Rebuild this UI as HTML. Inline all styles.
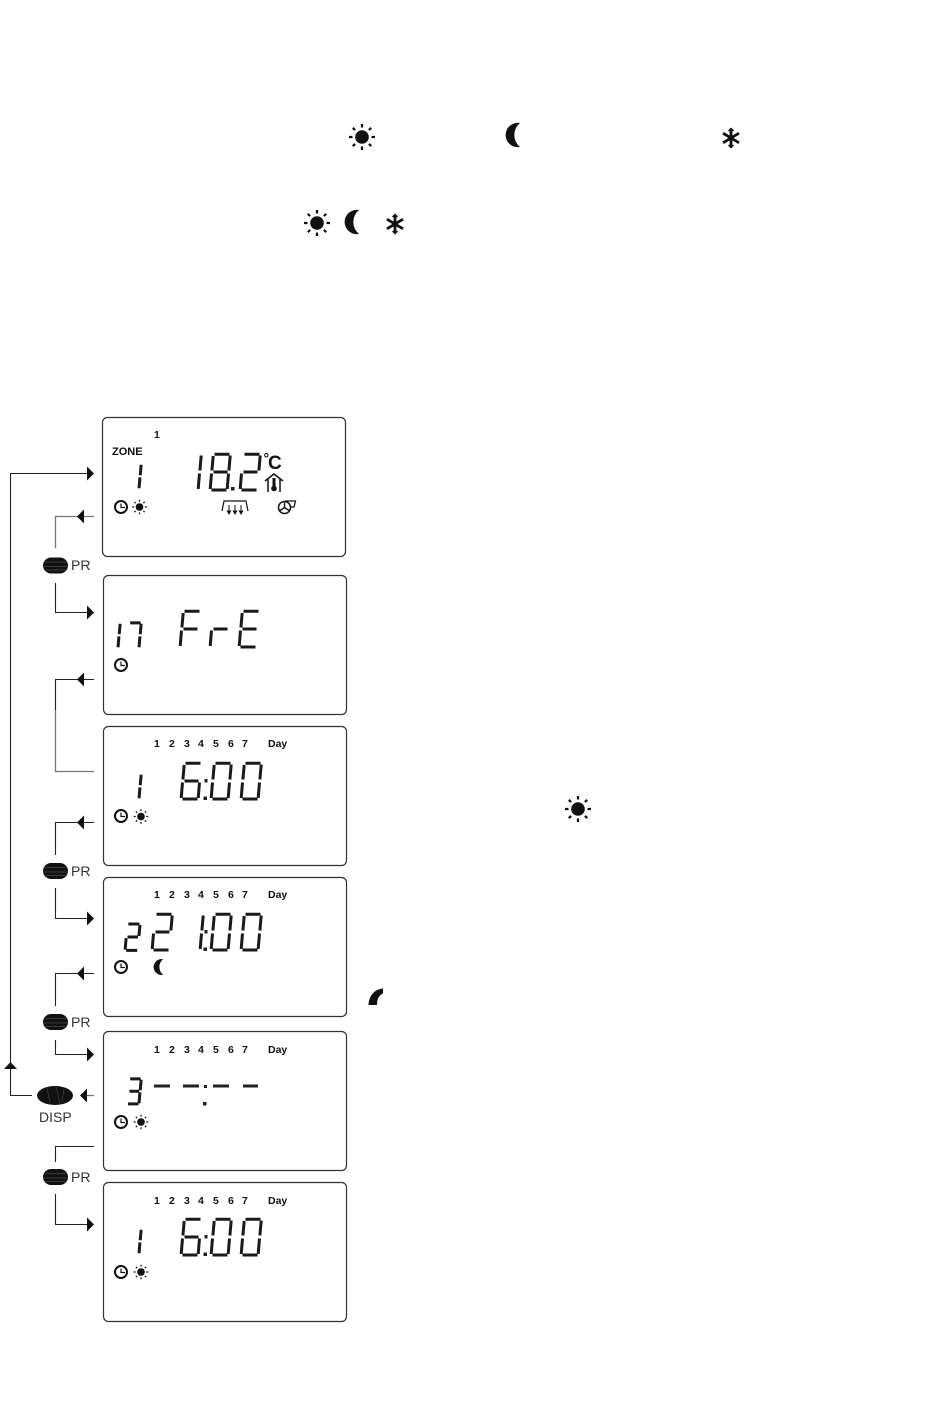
<!DOCTYPE html>
<html><head><meta charset="utf-8"><title>Display diagram</title>
<style>html,body{margin:0;padding:0;background:#fff}svg{display:block}
text{font-family:"Liberation Sans",sans-serif}
.b{font-weight:700;font-size:10.5px;fill:#111}
.p{font-size:14px;fill:#333}
.panel{fill:#fff;stroke:#333;stroke-width:1.2}
.l{fill:none;stroke:#222;stroke-width:1.1}
.g{fill:none;stroke:#777;stroke-width:1.3}
.s{fill:none;stroke:#1a1a1a;stroke-width:3;vector-effect:non-scaling-stroke}
</style></head><body>
<svg width="950" height="1409" viewBox="0 0 950 1409" xmlns="http://www.w3.org/2000/svg">
<defs>
<g id="sun"><circle r="6.800" fill="#111"/><path d="M0-13V-9.500M0 9.500V13M-13 0H-9.500M9.500 0H13M-9.200-9.200L-6.900-6.900M6.900 6.900L9.200 9.200M-9.200 9.200L-6.900 6.900M6.900-6.900L9.200-9.200" stroke="#111" stroke-width="2.200" fill="none"/></g>
<path id="moon" d="M7-12A12.200 12.200 0 1 0 7 12A15.500 15.500 0 0 1 7-12Z" fill="#111"/>
<g id="snow"><path d="M0-9.500V9.500M-8-4.800L8 4.800M-8 4.800L8-4.800" stroke="#111" stroke-width="2.800" fill="none"/><path d="M-2.500-7L0-9.500L2.500-7M-2.500 7L0 9.500L2.500 7" stroke="#111" stroke-width="1.400" fill="none"/></g>
<g id="clock"><circle r="6" fill="none" stroke="#111" stroke-width="2"/><path d="M0-3.500V0.500H4" fill="none" stroke="#111" stroke-width="1.200"/></g>
<g id="btn"><rect x="-12.500" y="-8" width="25" height="16" rx="8" ry="8" fill="#111"/><path d="M-11-3.500H11M-12 1H12M-10 4.500H10" stroke="#666" stroke-width=".5" fill="none"/></g>
<path id="al" d="M0 0L7-7V7Z" fill="#111"/>
<path id="ar" d="M0 0L-7-7V7Z" fill="#111"/>
<path id="d0" class="s" d="M4.500 1.300H19.500M3.200 3L1.900 17.500M20.200 2.500L18.900 17.500M1.500 20.500L.2 36M18.500 20.500L17.200 36M1.500 37H16.500"/>
<path id="d1" class="s" d="M20.200 2.500L18.900 17.500M18.500 20.500L17.200 36"/>
<path id="d2" class="s" d="M4.500 1.300H19.500M20.200 2.500L18.900 17.500M3.500 19H17.500M1.500 20.500L.2 36M1.500 37H16.500"/>
<path id="d3" class="s" d="M4.500 1.300H19.500M20.200 2.500L18.900 17.500M3.500 19H17.500M18.500 20.500L17.200 36M1.500 37H16.500"/>
<path id="d6" class="s" d="M4.500 1.300H19.500M3.200 3L1.900 17.500M3.500 19H17.500M1.500 20.500L.2 36M18.500 20.500L17.200 36M1.500 37H16.500"/>
<path id="d7" class="s" d="M4.500 1.300H19.500M20.200 2.500L18.900 17.500M18.500 20.500L17.200 36"/>
<path id="d8" class="s" d="M4.500 1.300H19.500M3.200 3L1.900 17.500M20.200 2.500L18.900 17.500M3.500 19H17.500M1.500 20.500L.2 36M18.500 20.500L17.200 36M1.500 37H16.500"/>
<path id="dF" class="s" d="M4.500 1.300H19.500M3.200 3L1.900 17.500M3.500 19H17.500M1.500 20.500L.2 36"/>
<path id="dr" class="s" d="M3.500 19H17.500M1.500 20.500L.2 36"/>
<path id="dE" class="s" d="M4.500 1.300H19.500M3.200 3L1.900 17.500M3.500 19H17.500M1.500 20.500L.2 36M1.500 37H16.500"/>
<g id="days">
<text class="b" x="154" y="0">1</text><text class="b" x="169" y="0">2</text><text class="b" x="184" y="0">3</text><text class="b" x="198" y="0">4</text><text class="b" x="213" y="0">5</text><text class="b" x="228" y="0">6</text><text class="b" x="242" y="0">7</text><text class="b" x="268" y="0">Day</text>
</g>
<g id="time600">
<use href="#d6" x="181"/><rect x="204.500" y="17" width="3" height="3.500" fill="#222"/><rect x="203.500" y="34.500" width="3.500" height="3.500" fill="#222"/><use href="#d0" x="211"/><use href="#d0" x="241"/>
</g>
</defs>

<!-- top symbols -->
<use href="#sun" x="362" y="137"/><use href="#moon" x="513" y="135"/><use href="#snow" x="731" y="138"/>
<use href="#sun" x="317" y="223"/><use href="#moon" x="352" y="222"/><use href="#snow" x="395" y="224"/>
<use href="#sun" x="578" y="809"/>
<path d="M383 988.500C375 989 369 995 368.500 1005H377C377 999 379 995 383 993.500Z" fill="#111"/>

<!-- panels -->
<rect class="panel" x="102.500" y="417.500" width="243" height="139" rx="5"/>
<rect class="panel" x="103.500" y="575.500" width="243" height="139" rx="5"/>
<rect class="panel" x="103.500" y="726.500" width="243" height="139" rx="5"/>
<rect class="panel" x="103.500" y="877.500" width="243" height="139" rx="5"/>
<rect class="panel" x="103.500" y="1031.500" width="243" height="139" rx="5"/>
<rect class="panel" x="103.500" y="1182.500" width="243" height="139" rx="5"/>

<!-- panel 1 -->
<text class="b" x="154" y="438">1</text>
<text x="112" y="455" font-size="11" font-weight="700" fill="#111">ZONE</text>
<use href="#d1" transform="translate(127 463) scale(.7)"/>
<g transform="translate(0 453)"><use href="#d1" x="181"/><use href="#d8" x="210"/><rect x="231" y="34" width="3.500" height="3.500" fill="#222"/><use href="#d2" x="240"/></g>
<text x="263.500" y="463" font-size="14" font-weight="700" fill="#111">°</text>
<text x="268" y="469" font-size="19" font-weight="700" fill="#111">C</text>
<path d="M265 481L274 474L283 481M268 479V492M280 479V492" fill="none" stroke="#111" stroke-width="1.500"/>
<path d="M274 478V488" stroke="#111" stroke-width="3"/><circle cx="274" cy="488.500" r="2.800" fill="#111"/>
<use href="#clock" x="121" y="507"/><use href="#sun" transform="translate(139.500 507) scale(.56)"/>
<path d="M222 511L224 501H246L248 511" fill="none" stroke="#111" stroke-width="1.200"/>
<path d="M229 505V513M235 505V513M241 505V513" stroke="#111" stroke-width="1"/>
<path d="M226.500 510.500L229 515L231.500 510.500ZM232.500 510.500L235 515L237.500 510.500ZM238.500 510.500L241 515L243.500 510.500Z" fill="#111"/>
<circle cx="284.500" cy="507.500" r="6" fill="none" stroke="#111" stroke-width="1.500"/>
<path d="M285 501H295.500L294 507H290" fill="none" stroke="#111" stroke-width="1.300"/>
<path d="M284.500 507.500V502.500M284.500 507.500L280 510.500M284.500 507.500L289 510.500" stroke="#111" stroke-width="1.400"/>

<!-- panel 2 -->
<use href="#d1" transform="translate(106 622) scale(.7)"/>
<use href="#d7" transform="translate(127 622) scale(.7)"/>
<g transform="translate(0 610)"><use href="#dF" x="180"/><use href="#dr" x="210"/><use href="#dE" x="239"/></g>
<use href="#clock" x="121" y="665"/>

<!-- panel 3 -->
<use href="#days" y="747"/>
<use href="#d1" transform="translate(127 773) scale(.7)"/>
<use href="#time600" y="762"/>
<use href="#clock" x="121" y="816"/><use href="#sun" transform="translate(141 816.500) scale(.56)"/>

<!-- panel 4 -->
<use href="#days" y="898"/>
<use href="#d2" transform="translate(125 923) scale(.74)"/>
<g transform="translate(0 913)"><use href="#d2" x="152"/><use href="#d1" x="183"/><rect x="204.500" y="17" width="3" height="3.500" fill="#222"/><rect x="203.500" y="34.500" width="3.500" height="3.500" fill="#222"/><use href="#d0" x="211"/><use href="#d0" x="241"/></g>
<use href="#clock" x="121" y="967"/><use href="#moon" transform="translate(158.500 967) scale(.66)"/>

<!-- panel 5 -->
<use href="#days" y="1053"/>
<use href="#d3" transform="translate(127 1078) scale(.7)"/>
<path d="M154 1086H170M183 1086H199M213 1086H229M243 1086H258" stroke="#222" stroke-width="3" fill="none"/>
<rect x="204" y="1085" width="3" height="3" fill="#222"/><rect x="203" y="1102" width="3.500" height="3.500" fill="#222"/>
<use href="#clock" x="121" y="1122"/><use href="#sun" transform="translate(141 1122) scale(.56)"/>

<!-- panel 6 -->
<use href="#days" y="1204"/>
<use href="#d1" transform="translate(127 1228) scale(.7)"/>
<use href="#time600" y="1218"/>
<use href="#clock" x="121" y="1272"/><use href="#sun" transform="translate(141 1272) scale(.56)"/>

<!-- connectors -->
<path class="l" d="M88 473.500H10.500V1095.500H32"/>
<use href="#ar" x="94" y="473.500"/>
<path d="M10.500 1062L17 1069H4Z" fill="#111"/>
<path class="g" d="M94 516.500H55.500V548"/><use href="#al" x="77" y="516.500"/>
<path class="l" d="M55.500 583V612.500H88"/><use href="#ar" x="94" y="612.500"/>
<path class="l" d="M94 679.500H55.500V710"/><use href="#al" x="77" y="679.500"/>
<path class="g" d="M55.500 710V771.500H94"/>
<path class="l" d="M94 822.500H55.500V855"/><use href="#al" x="77" y="822.500"/>
<path class="l" d="M55.500 888V918.500H88"/><use href="#ar" x="94" y="918.500"/>
<path class="l" d="M94 973.500H55.500V1006"/><use href="#al" x="77" y="973.500"/>
<path class="l" d="M55.500 1040V1054.500H88"/><use href="#ar" x="94" y="1054.500"/>
<path class="g" d="M94 1095.500H86"/><use href="#al" x="80" y="1095.500"/>
<path class="l" d="M94 1146.500H55.500V1162"/>
<path class="l" d="M55.500 1194V1224.500H88"/><use href="#ar" x="94" y="1224.500"/>

<!-- buttons -->
<use href="#btn" x="55.500" y="565.500"/><text class="p" x="71" y="570">PR</text>
<use href="#btn" x="55.500" y="871"/><text class="p" x="71" y="876">PR</text>
<use href="#btn" x="55.500" y="1022"/><text class="p" x="71" y="1027">PR</text>
<use href="#btn" x="55.500" y="1177"/><text class="p" x="71" y="1182">PR</text>
<ellipse cx="55" cy="1095.500" rx="18" ry="9.500" fill="#111"/>
<path d="M47 1088L50 1103M56 1087L60 1104M64 1089L62 1102" stroke="#555" stroke-width=".5" fill="none"/>
<text x="39" y="1122" font-size="14" fill="#333">DISP</text>
</svg>
</body></html>
